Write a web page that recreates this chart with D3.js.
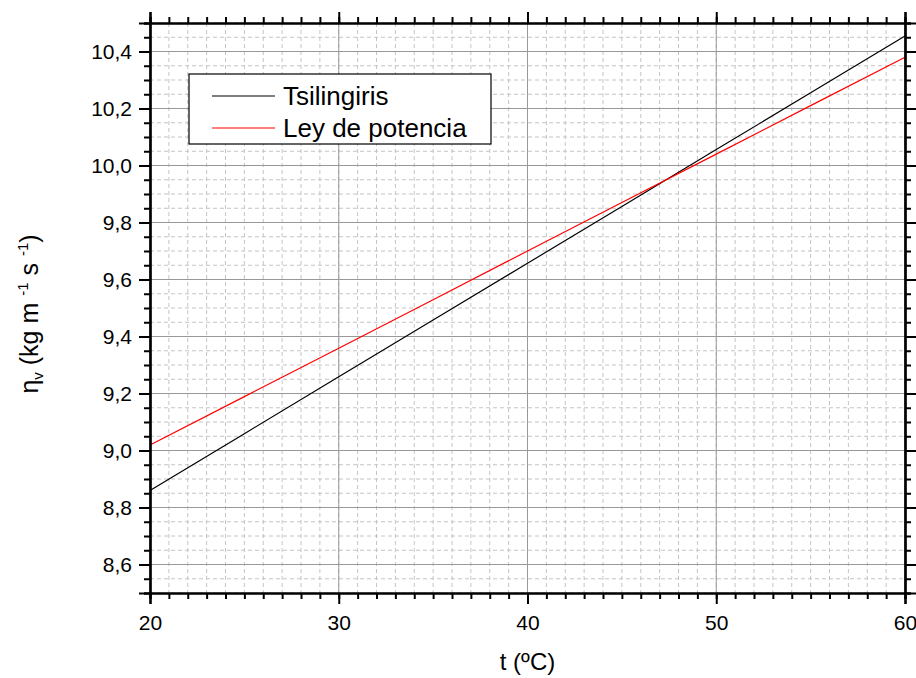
<!DOCTYPE html>
<html>
<head>
<meta charset="utf-8">
<script src="https://cdn.jsdelivr.net/npm/d3@7"></script>
<style>
  body { margin: 0; background: #fff; }
  svg { font-family: "Liberation Sans", Arial, sans-serif; }
</style>
</head>
<body>
<svg id="chart" width="916" height="678"></svg>
<script>
const temps = [20, 25, 30, 35, 40, 45, 50, 55, 60];
const tsilingiris = [8.860, 9.059, 9.259, 9.458, 9.657, 9.856, 10.056, 10.255, 10.454];
const leyPotencia = [9.019, 9.189, 9.359, 9.529, 9.700, 9.870, 10.040, 10.210, 10.380];
const xTicks = [20, 30, 40, 50, 60];
const yTicks = [8.6, 8.8, 9.0, 9.2, 9.4, 9.6, 9.8, 10.0, 10.2, 10.4];
const seriesNames = ['Tsilingiris', 'Ley de potencia'];
const seriesColors = ['#000000', '#ff0000'];

const margin = { left: 150, right: 11, top: 23, bottom: 85 };
const width = 916 - margin.left - margin.right;
const height = 678 - margin.top - margin.bottom;

const svg = d3.select('#chart');
const g = svg.append('g').attr('transform', `translate(${margin.left},${margin.top})`);

const x = d3.scaleLinear().domain([20, 60]).range([0, width]);
const y = d3.scaleLinear().domain([8.5, 10.5]).range([height, 0]);

const xMinor = d3.range(20, 60.001, 1);
const yMinor = d3.range(8.5, 10.5001, 0.05);

// minor grid (dashed)
g.append('g').selectAll('line')
  .data(xMinor)
  .join('line')
  .attr('x1', (d) => x(d)).attr('x2', (d) => x(d))
  .attr('y1', 0).attr('y2', height)
  .attr('stroke', '#c4c4c4')
  .attr('stroke-dasharray', '4,3');
g.append('g').selectAll('line')
  .data(yMinor)
  .join('line')
  .attr('y1', (d) => y(d)).attr('y2', (d) => y(d))
  .attr('x1', 0).attr('x2', width)
  .attr('stroke', '#c4c4c4')
  .attr('stroke-dasharray', '4,3');

// major grid (solid)
g.append('g').selectAll('line')
  .data(xTicks)
  .join('line')
  .attr('x1', (d) => x(d)).attr('x2', (d) => x(d))
  .attr('y1', 0).attr('y2', height)
  .attr('stroke', '#999');
g.append('g').selectAll('line')
  .data(yTicks)
  .join('line')
  .attr('y1', (d) => y(d)).attr('y2', (d) => y(d))
  .attr('x1', 0).attr('x2', width)
  .attr('stroke', '#999');

// series lines
const series = [tsilingiris, leyPotencia];
const line = d3.line().x((d, i) => x(temps[i])).y((d) => y(d));
series.forEach((vals, i) => {
  g.append('path')
    .datum(vals)
    .attr('d', line)
    .attr('fill', 'none')
    .attr('stroke', seriesColors[i])
    .attr('stroke-width', 1.2);
});

// axes
const fmt = (d) => d3.format('.1f')(d).replace('.', ',');

g.append('g').attr('transform', `translate(0,${height})`)
  .call(d3.axisBottom(x).tickValues(xMinor).tickSize(6).tickFormat(''));
g.append('g').attr('transform', `translate(0,${height})`)
  .call(d3.axisBottom(x).tickValues(xTicks).tickSize(11).tickPadding(11).tickFormat(d3.format('d')));

g.append('g').call(d3.axisTop(x).tickValues(xMinor).tickSize(6).tickFormat(''));
g.append('g').call(d3.axisTop(x).tickValues(xTicks).tickSize(11).tickFormat(''));

g.append('g').call(d3.axisLeft(y).tickValues(yMinor).tickSize(6).tickFormat(''));
g.append('g')
  .call(d3.axisLeft(y).tickValues(yTicks).tickSize(11).tickPadding(7).tickFormat(fmt));

g.append('g').attr('transform', `translate(${width},0)`)
  .call(d3.axisRight(y).tickValues(yMinor).tickSize(6).tickFormat(''));
g.append('g').attr('transform', `translate(${width},0)`)
  .call(d3.axisRight(y).tickValues(yTicks).tickSize(11).tickFormat(''));

g.selectAll('.tick line').attr('stroke-width', 2);
g.selectAll('.domain').attr('stroke-width', 2.2);
g.selectAll('.tick text').attr('font-size', 21).attr('fill', '#000')
  .attr('font-family', '"Liberation Sans", Arial, sans-serif');

// legend
const legend = g.append('g').attr('transform', 'translate(39,51)');
legend.append('rect')
  .attr('width', 302).attr('height', 70)
  .attr('fill', '#fff').attr('stroke', '#000').attr('stroke-width', 1.2);
seriesNames.forEach((name, i) => {
  const ly = 22 + i * 32;
  legend.append('line')
    .attr('x1', 23).attr('x2', 86)
    .attr('y1', ly).attr('y2', ly)
    .attr('stroke', seriesColors[i]).attr('stroke-width', 1.2);
  legend.append('text')
    .attr('x', 94).attr('y', ly + 9)
    .attr('font-size', 26)
    .text(name);
});

// axis titles
svg.append('text')
  .attr('x', margin.left + width / 2).attr('y', 670)
  .attr('text-anchor', 'middle')
  .attr('font-size', 24)
  .text('t (ºC)');

const yTitle = svg.append('text')
  .attr('transform', 'translate(38,314) rotate(-90)')
  .attr('text-anchor', 'middle')
  .attr('font-size', 25);
yTitle.append('tspan').text('η');
yTitle.append('tspan').attr('font-size', 15).attr('baseline-shift', '-35%').text('v');
yTitle.append('tspan').text(' (kg m ');
yTitle.append('tspan').attr('font-size', 15).attr('baseline-shift', '65%').text('-1');
yTitle.append('tspan').text(' s ');
yTitle.append('tspan').attr('font-size', 15).attr('baseline-shift', '65%').text('-1');
yTitle.append('tspan').text(')');
</script>
</body>
</html>
